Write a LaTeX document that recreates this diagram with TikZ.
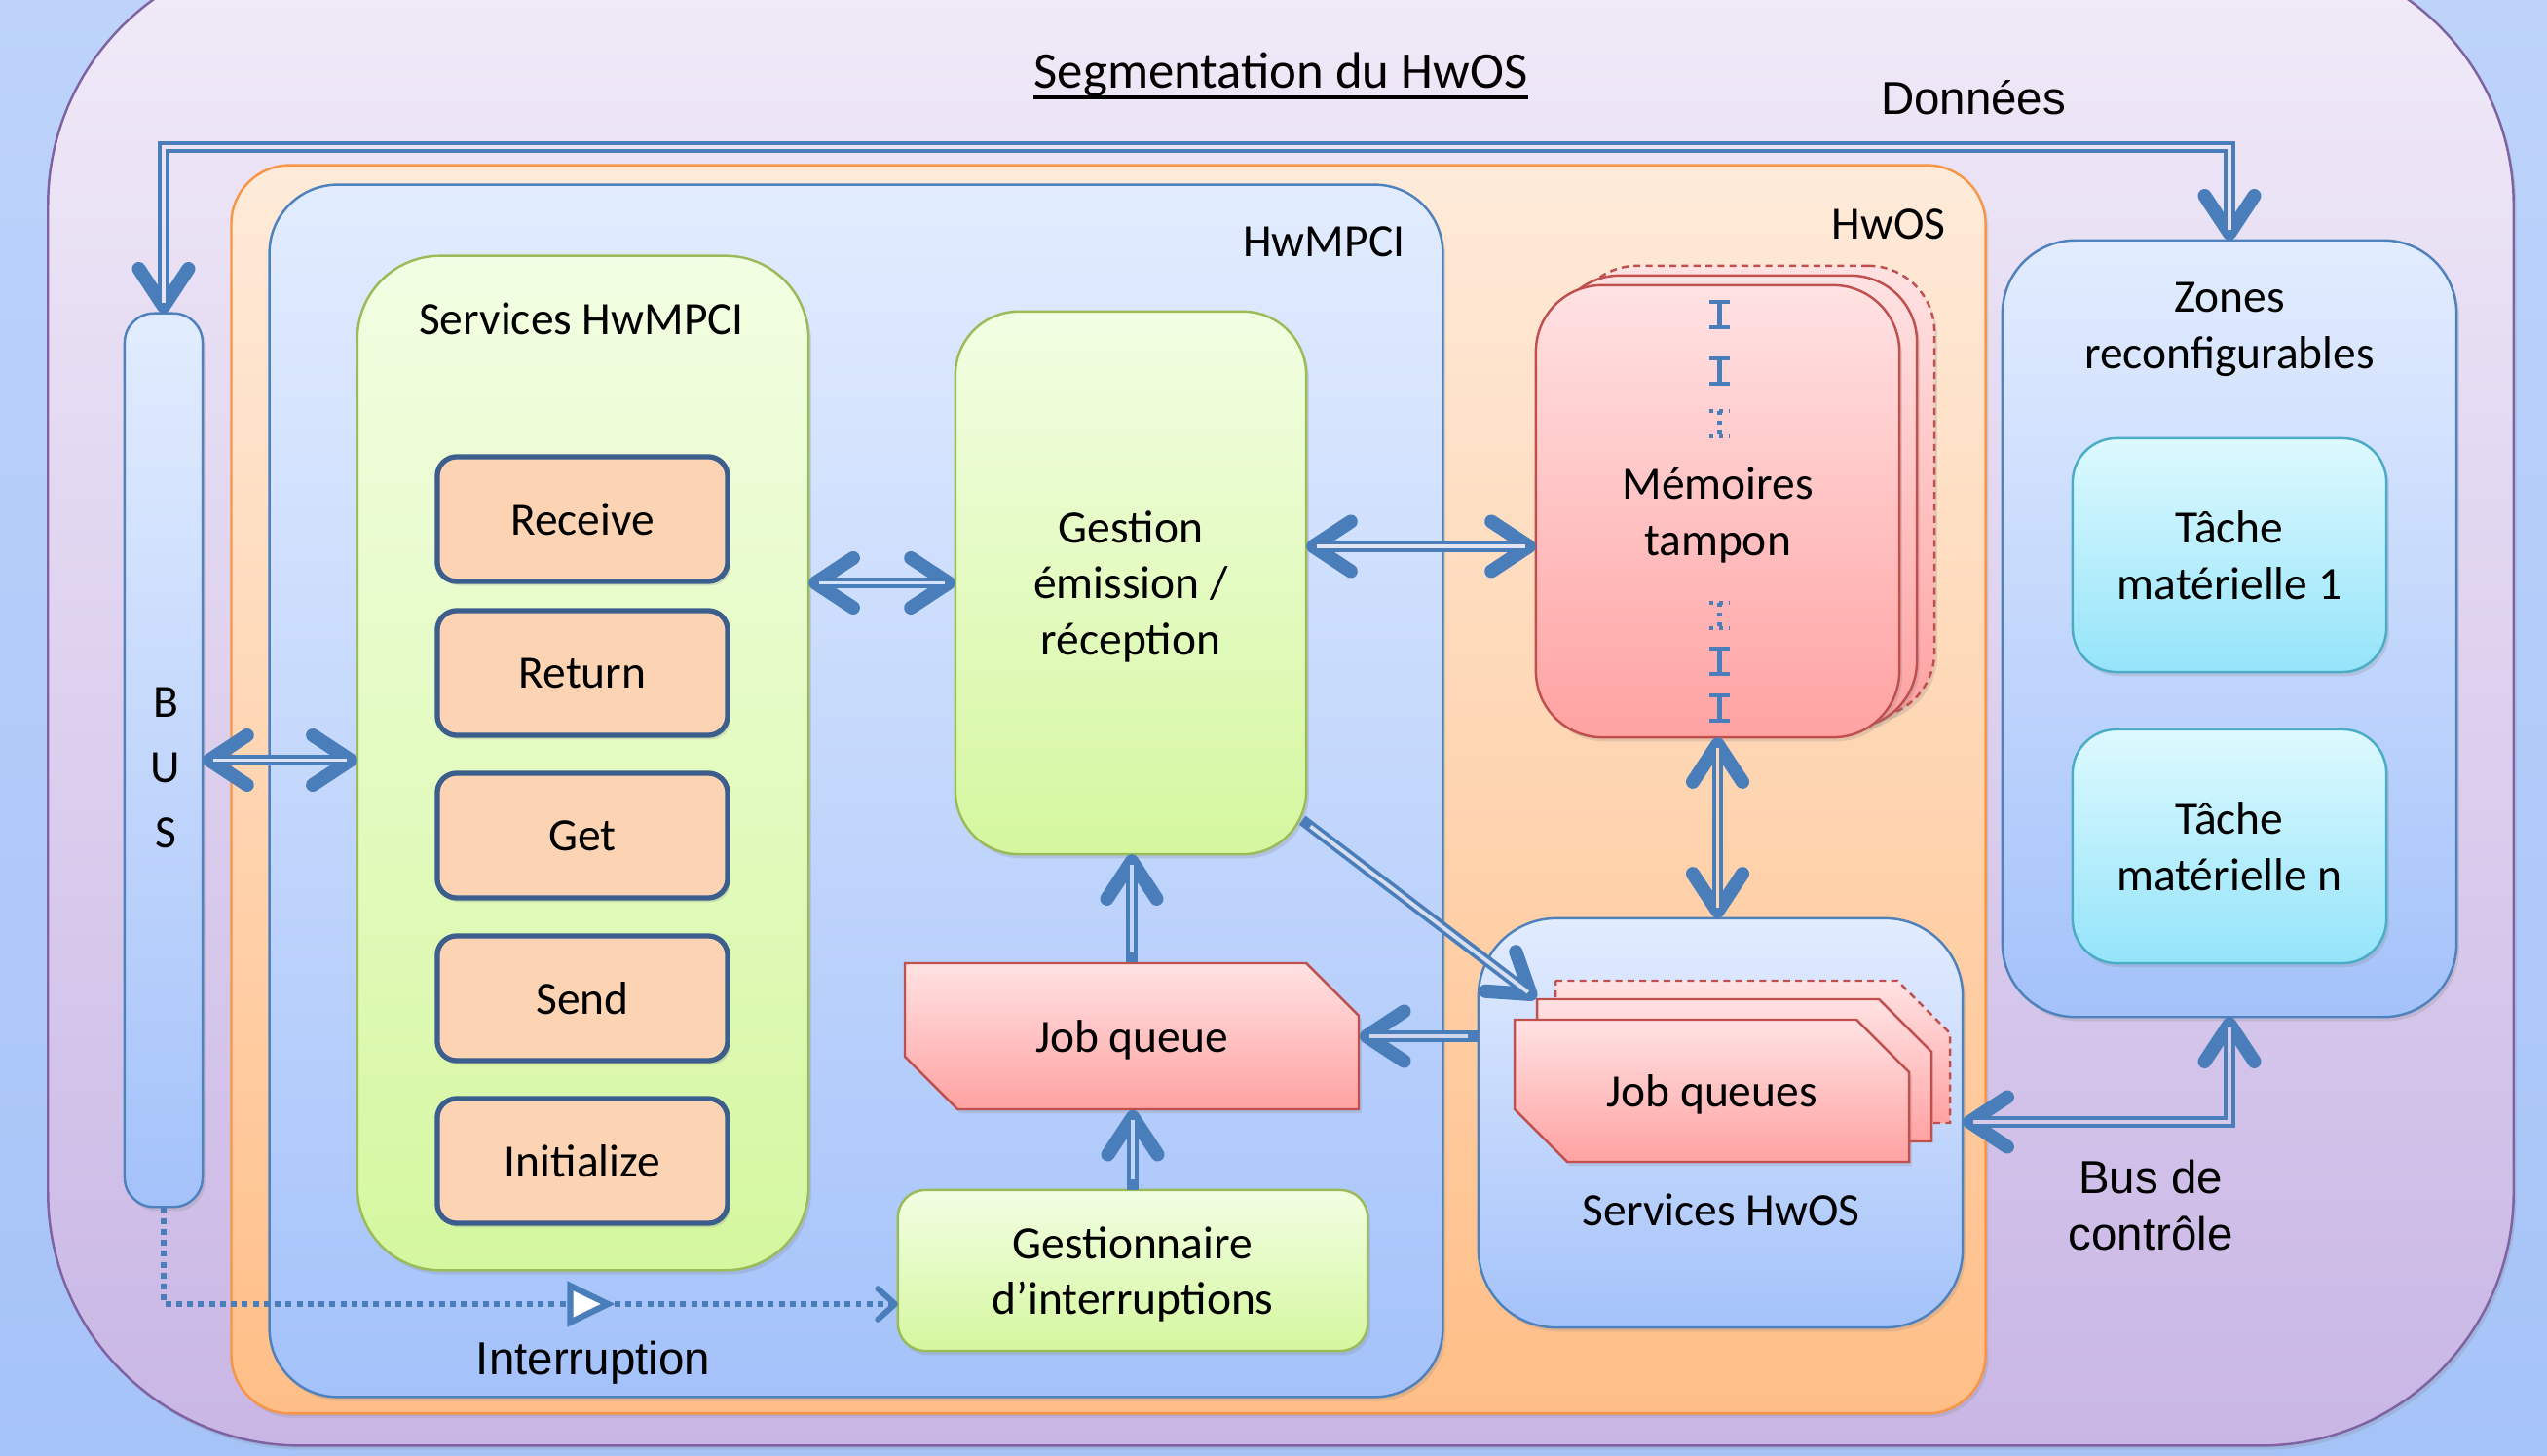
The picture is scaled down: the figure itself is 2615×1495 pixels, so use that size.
\documentclass[tikz,border=0pt]{standalone}
\usepackage{fontspec}
\setmainfont{Carlito}
\newfontfamily\arialf{Liberation Sans}
\usetikzlibrary{arrows.meta,shadows,decorations.markings,calc}

\definecolor{bgtop}{HTML}{BDD3FA}
\definecolor{bgbot}{HTML}{A6C3F8}
\definecolor{outtop}{HTML}{F1EBF8}
\definecolor{outbot}{HTML}{C9B6E5}
\definecolor{outline}{HTML}{7E62A1}
\definecolor{ortop}{HTML}{FEEBDA}
\definecolor{orbot}{HTML}{FFBE87}
\definecolor{orline}{HTML}{F79646}
\definecolor{bltop}{HTML}{E2ECFE}
\definecolor{blbot}{HTML}{A4C2FA}
\definecolor{blline}{HTML}{4F81BD}
\definecolor{grtop}{HTML}{F2FEE3}
\definecolor{grbot}{HTML}{D5F79F}
\definecolor{grline}{HTML}{9BBB59}
\definecolor{peach}{HTML}{FCD4B4}
\definecolor{peachline}{HTML}{3B5E8C}
\definecolor{pktop}{HTML}{FFE2E3}
\definecolor{pkbot}{HTML}{FFA2A2}
\definecolor{pkline}{HTML}{C0504D}
\definecolor{cytop}{HTML}{DDF9FE}
\definecolor{cybot}{HTML}{95E4FA}
\definecolor{cyline}{HTML}{4BACC6}
\definecolor{cblue}{HTML}{4A7EBB}
\definecolor{gaplav}{HTML}{EAE3F6}
\definecolor{gapA}{HTML}{DCE4F6}
\definecolor{gapB}{HTML}{D6E3FC}
\definecolor{gapC}{HTML}{E4E4F2}
\definecolor{gapD}{HTML}{FDD8B6}
\definecolor{gapE}{HTML}{D6DEF0}
\definecolor{gapF}{HTML}{D2D6EC}
\definecolor{gapG}{HTML}{C2D6FC}
\definecolor{gapH}{HTML}{D8CBEC}

\newcommand\fsz{\fontsize{13.5pt}{16.4pt}\selectfont}

\begin{document}
\begin{tikzpicture}[x=0.01cm, y=-0.01cm, font=\fsz,
  >={Straight Barb[length=11pt,width=14.5pt,line width=4pt,round]},
  box/.style={inner sep=0pt, outer sep=0pt, line width=0.7pt, text depth=0pt,
    drop shadow={shadow xshift=0.8pt, shadow yshift=-1.2pt, opacity=0.22}},
  blbox/.style={box, draw=blline, top color=bltop, bottom color=blbot},
  grbox/.style={box, draw=grline, top color=grtop, bottom color=grbot, align=center},
  pkfill/.style={draw=pkline, top color=pktop, bottom color=pkbot, line width=0.7pt},
  svcbox/.style={box, draw=peachline, fill=peach, line width=1.5pt,
    minimum width=2.98cm, minimum height=1.28cm, rounded corners=0.2cm},
  cybox/.style={box, draw=cyline, top color=cytop, bottom color=cybot,
    minimum width=3.22cm, minimum height=2.40cm, rounded corners=0.45cm, align=center},
  lbl/.style={inner sep=0pt, align=center, text depth=0pt},
  arl/.style={lbl, font=\fsz\arialf},
  conn/.style={draw=cblue, line width=3.2pt,
    postaction={draw=#1, line width=1.1pt, arrows=-, shorten >=3pt, shorten <=3pt}},
  intr/.style={draw=cblue, line width=1.7pt, dash pattern=on 1.7pt off 1.5pt,
    -{Straight Barb[length=5pt,width=9pt,round]}},
  ibeam/.style={draw=cblue, line width=1.2pt},
  dsh/.style={dash pattern=on 2pt off 1.5pt}
]
\useasboundingbox (0,0) rectangle (2615,1495);
\clip (0,0) rectangle (2615,1495);
\shade[top color=bgtop, bottom color=bgbot] (0,0) rectangle (2615,1495);

% containers
\node[box, draw=outline, top color=outtop, bottom color=outbot,
  minimum width=25.30cm, minimum height=15.33cm, rounded corners=2.6cm] (outer) at (1315,717.5) {};
\node[box, draw=orline, top color=ortop, bottom color=orbot,
  minimum width=18.00cm, minimum height=12.81cm, rounded corners=0.6cm] (hwos) at (1138,810.5) {};
\node[blbox, minimum width=12.04cm, minimum height=12.44cm, rounded corners=0.7cm] (hwmpci) at (879,812) {};
\node[blbox, minimum width=0.80cm, minimum height=9.17cm, rounded corners=0.3cm] (bus) at (168,780.5) {};

% Services HwMPCI
\node[grbox, minimum width=4.63cm, minimum height=10.41cm, rounded corners=0.85cm] (hwsvc) at (598.5,783.5) {};
\node[svcbox] (receive) at (598,533) {Receive};
\node[svcbox] (return) at (598,691) {Return};
\node[svcbox] (get) at (598,858) {Get};
\node[svcbox] (send) at (598,1025) {Send};
\node[svcbox] (init) at (598,1192) {Initialize};

% Gestion
\node[grbox, minimum width=3.60cm, minimum height=5.57cm, rounded corners=0.65cm] (gestion) at (1161,598.5)
  {Gestion\\émission /\\réception};
\node[grbox, minimum width=4.82cm, minimum height=1.65cm, rounded corners=0.28cm] (gint) at (1163,1304.5)
  {Gestionnaire\\d’interruptions};

% Job queue
\path[pkfill, drop shadow={shadow xshift=0.8pt, shadow yshift=-1.2pt, opacity=0.22}]
  (929,989) -- (1341,989) -- (1395,1043) -- (1395,1139) -- (983,1139) -- (929,1085) -- cycle;
\node[lbl, minimum width=4.66cm, minimum height=1.50cm] (jq) at (1162,1064) {Job queue};

% Memoires tampon
\node[box, pkfill, dsh, minimum width=3.73cm, minimum height=4.64cm, rounded corners=0.68cm] (mem3) at (1799.5,505) {};
\node[box, pkfill, minimum width=3.73cm, minimum height=4.64cm, rounded corners=0.68cm] (mem2) at (1781.5,515) {};
\node[box, pkfill, align=center, minimum width=3.73cm, minimum height=4.64cm, rounded corners=0.68cm] (mem) at (1763.5,525)
  {Mémoires\\tampon};
\foreach \yy in {323,381,679,727}
  \draw[ibeam] (1755,\yy-13) -- (1776,\yy-13) (1765.5,\yy-13) -- (1765.5,\yy+13) (1755,\yy+13) -- (1776,\yy+13);
\foreach \yy in {435,632}
  \draw[ibeam, dash pattern=on 1.2pt off 1.6pt] (1755,\yy-13) -- (1776,\yy-13) (1765.5,\yy-13) -- (1765.5,\yy+13) (1755,\yy+13) -- (1776,\yy+13);

% Services HwOS
\node[blbox, minimum width=4.97cm, minimum height=4.20cm, rounded corners=0.8cm] (hsvc) at (1766.5,1153) {};
\path[pkfill, dsh] (1597,1007) -- (1948,1007) -- (2002,1061) -- (2002,1153) -- (1651,1153) -- (1597,1099) -- cycle;
\path[pkfill] (1578,1026) -- (1929,1026) -- (1983,1080) -- (1983,1172) -- (1632,1172) -- (1578,1118) -- cycle;
\path[pkfill, drop shadow={shadow xshift=0.8pt, shadow yshift=-1.2pt, opacity=0.22}]
  (1555,1047) -- (1906,1047) -- (1960,1101) -- (1960,1193) -- (1609,1193) -- (1555,1139) -- cycle;
\node[lbl, minimum width=4.05cm, minimum height=1.46cm] (jq2) at (1780.5,1099) {};
\node[lbl, minimum width=4.05cm, minimum height=1.46cm] (jq1) at (1757.5,1120) {Job queues};

% Zones reconfigurables
\node[blbox, minimum width=4.66cm, minimum height=7.97cm, rounded corners=0.75cm] (zones) at (2289,645.5) {};
\node[cybox] (task1) at (2289,570) {Tâche\\matérielle 1};
\node[cybox] (taskn) at (2289,869) {Tâche\\matérielle n};

% labels
\node[lbl, font=\fontsize{15pt}{18pt}\selectfont] (title) at (1315,72) {Segmentation du HwOS};
\draw[line width=1.1pt] ([yshift=-2.8pt]title.base west) -- ([yshift=-2.8pt]title.base east);
\node[arl] (don) at (2026,100) {Données};
\node[lbl, anchor=east] (lhwmpci) at (1443,248) {HwMPCI};
\node[lbl, anchor=east] (lhwos) at (1998,230) {HwOS};
\node[lbl] (lsvc) at (597,327) {Services HwMPCI};
\node[lbl] (lzones) at (2289,334.5) {Zones\\reconfigurables};
\node[lbl] (lhsvc) at (1767,1242) {Services HwOS};
\node[arl] (lint) at (609,1394) {Interruption};
\node[arl] (lbc) at (2208,1237) {Bus de\\contrôle};
\node[lbl, font=\fontsize{13.5pt}{19pt}\selectfont] (lbus) at (170,788) {B\\U\\S};

% connectors
\coordinate (ydon) at (0,151);
\coordinate (ymem) at (0,561);
\coordinate (ybc) at (0,1152);
\coordinate (yint) at (0,1339);
\draw[conn=gaplav, <->] (bus.north) |- (ydon -| zones.north) -- (zones.north);
\draw[conn=gapA, <->] (bus.east) -- (bus.east -| hwsvc.west);
\draw[conn=gapB, <->] (gestion.west -| hwsvc.east) -- (gestion.west);
\draw[conn=gapC, <->] (gestion.east |- ymem) -- (mem.west |- ymem);
\draw[conn=gapD, <->] (mem.south) -- (mem.south |- hsvc.north);
\draw[conn=gapE, ->] ($(gestion.south east)+(-4,-35)$) -- (jq2.north west);
\draw[conn=gapF, ->] (hsvc.west |- jq.east) -- (jq.east);
\draw[conn=gapG, ->] (jq.north) -- (jq.north |- gestion.south);
\draw[conn=gapG, ->] (gint.north) -- (gint.north |- jq.south);
\draw[conn=gapH, <->] (zones.south) |- (hsvc.east |- ybc);
\draw[intr, postaction={decorate, decoration={markings,
    mark=at position 0.66 with {\arrow[solid]{Triangle[length=14pt,width=13pt,fill=white,line width=1.8pt]}}}}]
  (bus.south) |- (gint.west |- yint);
\end{tikzpicture}
\end{document}
